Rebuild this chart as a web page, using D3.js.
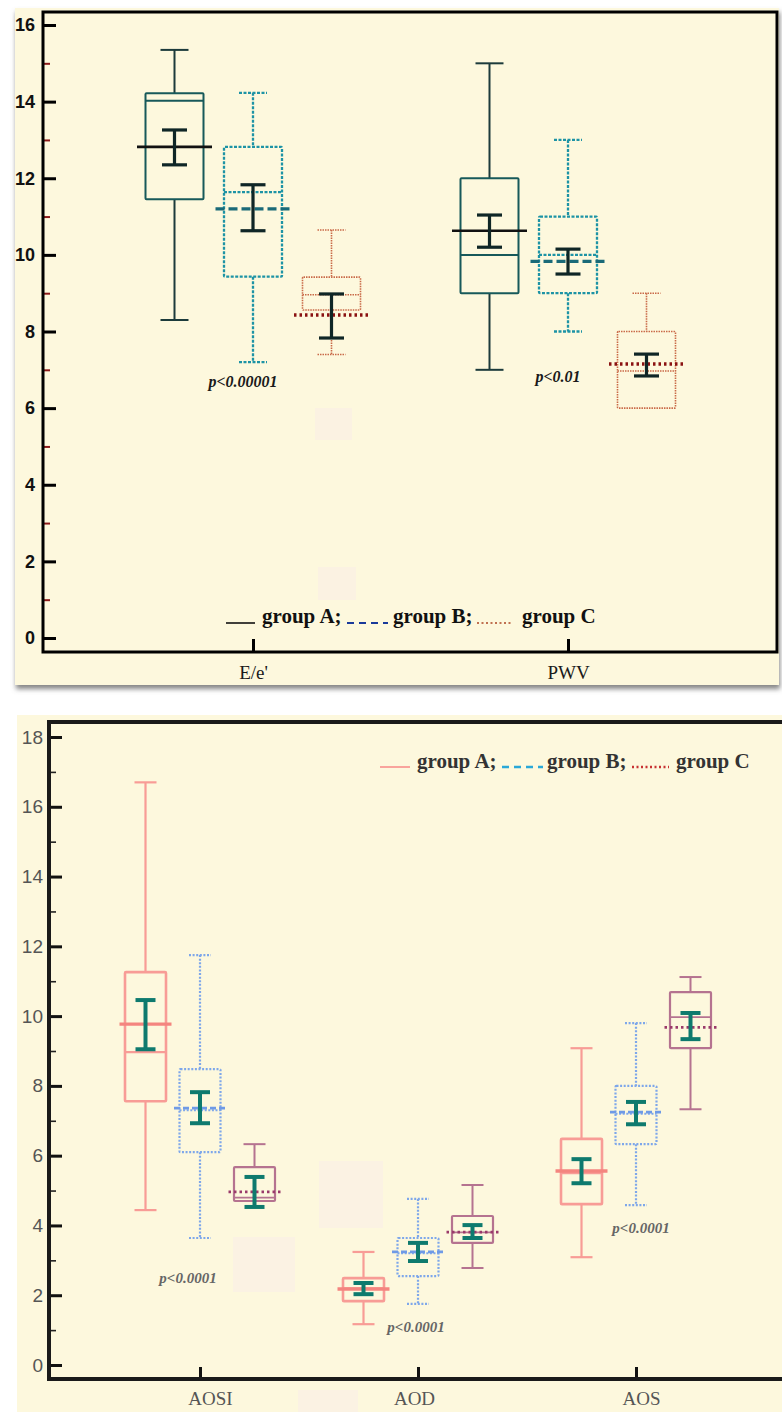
<!DOCTYPE html>
<html>
<meta charset="utf-8">
<head>
<script src="https://d3js.org/d3.v7.min.js"></script>
<style>
	body { margin: 0; background: #fff; }
</style>
</head>
<body>
<script>
// ---------- data ----------
var groupNames = ["group A", "group B", "group C"];

// top panel; rows = group A, B, C ; columns = topCats
var topCats   = ["E/e'", "PWV"];
var topMin    = [[8.3, 7.0],    [7.2, 8.0],    [7.4, 6.0]];
var topQ1     = [[11.45, 9.0],  [9.43, 9.0],   [8.56, 6.0]];
var topMedian = [[14.02, 10.0], [11.64, 10.0], [8.96, 6.97]];
var topQ3     = [[14.22, 12.0], [12.82, 11.0], [9.42, 8.0]];
var topMax    = [[15.35, 15.0], [14.23, 13.0], [10.65, 9.0]];
var topMean   = [[12.82, 10.63],[11.2, 9.83],  [8.43, 7.15]];
var topCiLow  = [[12.35, 10.2], [10.63, 9.5],  [7.83, 6.84]];
var topCiHigh = [[13.26, 11.04],[11.83, 10.15],[8.98, 7.41]];
var topP      = ["p<0.00001", "p<0.01"];
var topTicks  = [0, 2, 4, 6, 8, 10, 12, 14, 16];
var topMinorTicks = [1, 3, 5, 7, 9, 11, 13, 15];

// bottom panel
var botCats   = ["AOSI", "AOD", "AOS"];
var botMin    = [[4.44, 1.17, 3.09], [3.64, 1.75, 4.58], [4.7, 2.78, 7.33]];
var botQ1     = [[7.56, 1.83, 4.61], [6.1, 2.55, 6.33],  [4.7, 3.5, 9.08]];
var botMedian = [[8.97, 2.2, 5.5],   [7.3, 3.2, 7.2],    [4.8, 3.8, 9.97]];
var botQ3     = [[11.26, 2.49, 6.48],[8.48, 3.64, 8.0],  [5.67, 4.27, 10.69]];
var botMax    = [[16.7, 3.24, 9.08], [11.75, 4.76, 9.8], [6.33, 5.16, 11.12]];
var botMean   = [[9.77, 2.18, 5.56], [7.36, 3.24, 7.25], [4.96, 3.81, 9.68]];
var botCiLow  = [[9.05, 2.03, 5.21], [6.93, 2.98, 6.9],  [4.53, 3.64, 9.34]];
var botCiHigh = [[10.46, 2.35, 5.9], [7.82, 3.5, 7.54],  [5.39, 4.01, 10.09]];
var botP      = ["p<0.0001", "p<0.0001", "p<0.0001"];
var botTicks  = [0, 2, 4, 6, 8, 10, 12, 14, 16, 18];
var botMinorTicks = [1, 3, 5, 7, 9, 11, 13, 15, 17];

function buildRecords(cats, mn, q1, md, q3, mx, mean, lo, hi) {
	var recs = [];
	groupNames.forEach(function(gname, gi) {
		cats.forEach(function(c, ci) {
			recs.push({group: gname, gi: gi, cat: c,
				min: mn[gi][ci], q1: q1[gi][ci], med: md[gi][ci], q3: q3[gi][ci], max: mx[gi][ci],
				mean: mean[gi][ci], lo: lo[gi][ci], hi: hi[gi][ci]});
		});
	});
	return recs;
}

var width = 782, height = 1412;
var svg = d3.select("body").append("svg").attr("width", width).attr("height", height);

var defs = svg.append("defs");
defs.append("filter").attr("id", "shadow").attr("x", -0.05).attr("y", -0.05).attr("width", 1.1).attr("height", 1.1)
	.append("feDropShadow").attr("dx", 1).attr("dy", 4).attr("stdDeviation", 2.5).attr("flood-color", "#666").attr("flood-opacity", 0.8);

// draws whiskers, boxes, medians, means and CI bars
function drawBoxes(g, recs, x, gx, y, styles, dim) {
	var box = g.selectAll("g.box").data(recs).join("g")
		.attr("class", "box")
		.attr("transform", function(d) { return "translate(" + (x(d.cat) + gx(d.group)) + ",0)"; });

	function stl(sel, key) {
		sel.attr("fill", "none")
			.attr("stroke", function(d) { return styles[d.gi][key].color; })
			.attr("stroke-width", function(d) { return styles[d.gi][key].width; })
			.attr("stroke-dasharray", function(d) { return styles[d.gi][key].dash; });
	}
	// whiskers
	box.append("line").attr("x1", 0).attr("x2", 0).attr("y1", function(d) { return y(d.max); }).attr("y2", function(d) { return y(d.q3); }).call(stl, "whisker");
	box.append("line").attr("x1", 0).attr("x2", 0).attr("y1", function(d) { return y(d.q1); }).attr("y2", function(d) { return y(d.min); }).call(stl, "whisker");
	box.filter(function(d) { return d.max > d.q3; }).append("line")
		.attr("x1", -dim.cap / 2).attr("x2", dim.cap / 2).attr("y1", function(d) { return y(d.max); }).attr("y2", function(d) { return y(d.max); }).call(stl, "whisker");
	box.filter(function(d) { return d.min < d.q1; }).append("line")
		.attr("x1", -dim.cap / 2).attr("x2", dim.cap / 2).attr("y1", function(d) { return y(d.min); }).attr("y2", function(d) { return y(d.min); }).call(stl, "whisker");
	// box
	box.append("rect").attr("x", -dim.box / 2).attr("width", dim.box)
		.attr("y", function(d) { return y(d.q3); }).attr("height", function(d) { return y(d.q1) - y(d.q3); })
		.attr("rx", 1).call(stl, "box");
	// median
	box.append("line").attr("x1", -dim.box / 2).attr("x2", dim.box / 2)
		.attr("y1", function(d) { return y(d.med); }).attr("y2", function(d) { return y(d.med); }).call(stl, "median");
	// mean
	box.append("line").attr("x1", -dim.mean / 2).attr("x2", dim.mean / 2)
		.attr("y1", function(d) { return y(d.mean); }).attr("y2", function(d) { return y(d.mean); }).call(stl, "mean");
	// 95% CI of mean
	box.append("line").attr("x1", 0).attr("x2", 0).attr("y1", function(d) { return y(d.hi); }).attr("y2", function(d) { return y(d.lo); }).call(stl, "ci");
	box.append("line").attr("x1", -dim.ci / 2).attr("x2", dim.ci / 2).attr("y1", function(d) { return y(d.hi); }).attr("y2", function(d) { return y(d.hi); }).call(stl, "ci");
	box.append("line").attr("x1", -dim.ci / 2).attr("x2", dim.ci / 2).attr("y1", function(d) { return y(d.lo); }).attr("y2", function(d) { return y(d.lo); }).call(stl, "ci");
}

// ================= top panel =================
var topG = svg.append("g");
topG.append("rect").attr("x", 15).attr("y", 8).attr("width", 764).attr("height", 677)
	.attr("fill", "#fdf8dd").attr("filter", "url(#shadow)");
// faint patches
topG.append("rect").attr("x", 315).attr("y", 408).attr("width", 37).attr("height", 32).attr("fill", "#fbf2e2");
topG.append("rect").attr("x", 318).attr("y", 567).attr("width", 38).attr("height", 33).attr("fill", "#fbf2e2");

var yT = d3.scaleLinear().domain([0, 16]).range([638, 25]);
var xT = d3.scalePoint().domain(topCats).range([253, 568]);
var gxT = d3.scalePoint().domain(groupNames).range([-78.5, 78.5]);

var yAxT = topG.append("g").attr("transform", "translate(43,0)")
	.call(d3.axisLeft(yT).tickValues(topTicks).tickSizeInner(-13).tickSizeOuter(0).tickPadding(8));
yAxT.select(".domain").remove();
yAxT.selectAll("line").attr("stroke", "#000").attr("stroke-width", 3);
yAxT.selectAll("text").attr("fill", "#111").style("font", "bold 18px 'Liberation Sans', Arial, sans-serif");

var yMinT = topG.append("g").attr("transform", "translate(43,0)")
	.call(d3.axisLeft(yT).tickValues(topMinorTicks).tickSizeInner(-7).tickSizeOuter(0).tickFormat(""));
yMinT.select(".domain").remove();
yMinT.selectAll("line").attr("stroke", "#8b1a1a").attr("stroke-width", 2);

var xAxT = topG.append("g").attr("transform", "translate(0,652)")
	.call(d3.axisBottom(xT).tickSizeInner(-13).tickSizeOuter(0).tickPadding(14));
xAxT.select(".domain").remove();
xAxT.selectAll("line").attr("stroke", "#000").attr("stroke-width", 3);
xAxT.selectAll("text").attr("fill", "#1a1a1a").style("font-size", "19px")
	.style("font-family", "'Liberation Serif', serif");

topG.append("rect").attr("x", 43).attr("y", 12).attr("width", 734).attr("height", 640)
	.attr("fill", "none").attr("stroke", "#000").attr("stroke-width", 3);

var topStyles = [
	{whisker: {color: "#1c3b3b", width: 2, dash: null},
	 box: {color: "#17595a", width: 2, dash: null},
	 median: {color: "#17595a", width: 2, dash: null},
	 mean: {color: "#111", width: 2.6, dash: null},
	 ci: {color: "#0f2626", width: 3.2, dash: null}},
	{whisker: {color: "#1d93a5", width: 2.3, dash: "3,1.5"},
	 box: {color: "#1d93a5", width: 2.3, dash: "3,1.5"},
	 median: {color: "#1d93a5", width: 2.3, dash: "3,1.5"},
	 mean: {color: "#1a6a78", width: 3.4, dash: "9,4"},
	 ci: {color: "#0f2626", width: 3.2, dash: null}},
	{whisker: {color: "#c96a48", width: 1.6, dash: "1.5,1"},
	 box: {color: "#c96a48", width: 1.6, dash: "1.5,1"},
	 median: {color: "#c96a48", width: 1.6, dash: "1.5,1"},
	 mean: {color: "#8a1212", width: 3.6, dash: "2.5,3"},
	 ci: {color: "#0f2626", width: 3.2, dash: null}}
];
var topRecs = buildRecords(topCats, topMin, topQ1, topMedian, topQ3, topMax, topMean, topCiLow, topCiHigh);
drawBoxes(topG.append("g"), topRecs, xT, gxT, yT, topStyles, {box: 58, cap: 28, mean: 75, ci: 25});

// p-values (placed in value units below the middle group)
var topPAt = [6.55, 6.68];
topG.selectAll("text.pval").data(topP).join("text").attr("class", "pval")
	.attr("x", function(d, i) { return xT(topCats[i]) - 10; })
	.attr("y", function(d, i) { return yT(topPAt[i]); })
	.attr("text-anchor", "middle").attr("fill", "#1a1a1a")
	.style("font", "italic bold 16px 'Liberation Serif', serif").text(function(d) { return d; });

// legend
var legT = topG.append("g").style("font", "bold 21px 'Liberation Serif', serif").attr("fill", "#111");
var legTItems = [
	{x1: 226, x2: 255, tx: 262, color: "#111", dash: null, w: 1.6},
	{x1: 347, x2: 388, tx: 393, color: "#1a3a9a", dash: "7,5", w: 1.8},
	{x1: 477, x2: 513, tx: 522, color: "#c07050", dash: "2,2.5", w: 1.8}
];
legTItems.forEach(function(it, i) {
	legT.append("line").attr("x1", it.x1).attr("x2", it.x2).attr("y1", 623).attr("y2", 623)
		.attr("stroke", it.color).attr("stroke-width", it.w).attr("stroke-dasharray", it.dash);
	legT.append("text").attr("x", it.tx).attr("y", 623).text(groupNames[i] + (i < 2 ? ";" : ""));
});

// ================= bottom panel =================
var botG = svg.append("g");
botG.append("rect").attr("x", 17).attr("y", 715).attr("width", 770).attr("height", 710).attr("fill", "#fdf8dd");
botG.append("rect").attr("x", 319).attr("y", 1161).attr("width", 64).attr("height", 67).attr("fill", "#fbf2e3");
botG.append("rect").attr("x", 233).attr("y", 1237).attr("width", 62).attr("height", 55).attr("fill", "#fbf2e3");
botG.append("rect").attr("x", 298).attr("y", 1390).attr("width", 60).attr("height", 22).attr("fill", "#fbf2e3");

var yB = d3.scaleLinear().domain([0, 18]).range([1365, 737]);
var xB = d3.scalePoint().domain(botCats).range([200, 636]);
var gxB = d3.scalePoint().domain(groupNames).range([-54.5, 54.5]);

var yAxB = botG.append("g").attr("transform", "translate(49,0)")
	.call(d3.axisLeft(yB).tickValues(botTicks).tickSizeInner(-13).tickSizeOuter(0).tickPadding(6));
yAxB.select(".domain").remove();
yAxB.selectAll("line").attr("stroke", "#111").attr("stroke-width", 3);
yAxB.selectAll("text").attr("fill", "#555").style("font", "19px 'Liberation Sans', Arial, sans-serif");

var yMinB = botG.append("g").attr("transform", "translate(49,0)")
	.call(d3.axisLeft(yB).tickValues(botMinorTicks).tickSizeInner(-7).tickSizeOuter(0).tickFormat(""));
yMinB.select(".domain").remove();
yMinB.selectAll("line").attr("stroke", "#222").attr("stroke-width", 1.6);

var xAxB = botG.append("g").attr("transform", "translate(0,1379)")
	.call(d3.axisBottom(xB).tickSizeInner(-12).tickSizeOuter(0).tickPadding(13));
xAxB.select(".domain").remove();
xAxB.selectAll("line").attr("stroke", "#111").attr("stroke-width", 3);
xAxB.selectAll("text").attr("fill", "#555").style("font-size", "19px").style("font-family", "'Liberation Serif', serif")
	.attr("dx", function(d, i) { return [10, -4, 5][i]; });

botG.append("path").attr("d", "M782,722H49V1379H782")
	.attr("fill", "none").attr("stroke", "#1a1a1a").attr("stroke-width", 4);

var botStyles = [
	{whisker: {color: "#f89c96", width: 2.2, dash: null},
	 box: {color: "#f89c96", width: 2.6, dash: null},
	 median: {color: "#f89c96", width: 2.2, dash: null},
	 mean: {color: "#f4857f", width: 3.4, dash: null},
	 ci: {color: "#0e7a6e", width: 4, dash: null}},
	{whisker: {color: "#7ea7ea", width: 2.2, dash: "2,1.6"},
	 box: {color: "#7ea7ea", width: 2.2, dash: "2,1.6"},
	 median: {color: "#7ea7ea", width: 2, dash: "2,1.6"},
	 mean: {color: "#6f9ae6", width: 2.8, dash: "6,3"},
	 ci: {color: "#0e7a6e", width: 4, dash: null}},
	{whisker: {color: "#b57390", width: 2, dash: null},
	 box: {color: "#b57390", width: 2.2, dash: null},
	 median: {color: "#b57390", width: 1.8, dash: null},
	 mean: {color: "#9a3a6a", width: 2.8, dash: "2.5,3"},
	 ci: {color: "#0e7a6e", width: 4, dash: null}}
];
var botRecs = buildRecords(botCats, botMin, botQ1, botMedian, botQ3, botMax, botMean, botCiLow, botCiHigh);
drawBoxes(botG.append("g"), botRecs, xB, gxB, yB, botStyles, {box: 41, cap: 22, mean: 52, ci: 20});

var botPAt = [2.35, 0.95, 3.78];
var botPDx = [-12, -2, 5];
botG.selectAll("text.pval").data(botP).join("text").attr("class", "pval")
	.attr("x", function(d, i) { return xB(botCats[i]) + botPDx[i]; })
	.attr("y", function(d, i) { return yB(botPAt[i]); })
	.attr("text-anchor", "middle").attr("fill", "#666")
	.style("font", "italic bold 15px 'Liberation Serif', serif").text(function(d) { return d; });

var legB = botG.append("g").style("font", "bold 21px 'Liberation Serif', serif").attr("fill", "#333");
var legBItems = [
	{x1: 380, x2: 410, tx: 417, color: "#f9a49c", dash: null, w: 2},
	{x1: 502, x2: 543, tx: 547, color: "#2aa8d8", dash: "7,5", w: 2.4},
	{x1: 632, x2: 669, tx: 676, color: "#c83232", dash: "2,2.5", w: 2.4}
];
legBItems.forEach(function(it, i) {
	legB.append("line").attr("x1", it.x1).attr("x2", it.x2).attr("y1", 767).attr("y2", 767)
		.attr("stroke", it.color).attr("stroke-width", it.w).attr("stroke-dasharray", it.dash);
	legB.append("text").attr("x", it.tx).attr("y", 768).text(groupNames[i] + (i < 2 ? ";" : ""));
});
</script>
</body>
</html>
